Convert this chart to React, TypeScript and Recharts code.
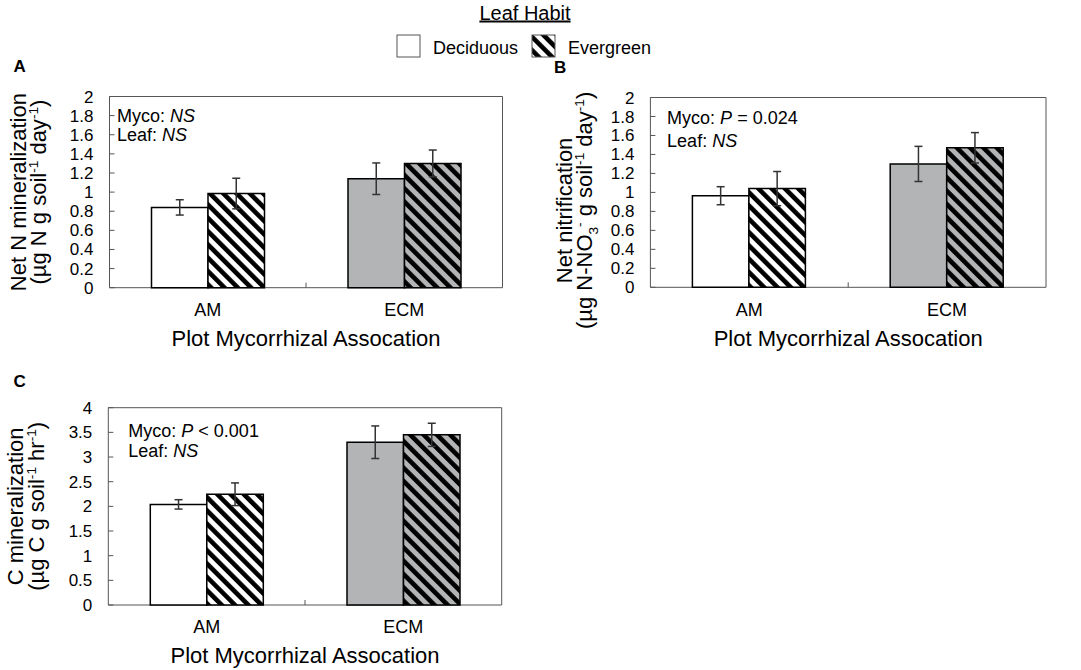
import React from 'react';
import { BarChart, Bar, XAxis, YAxis, ErrorBar, Cell, ReferenceArea } from 'recharts';

// ---------- data ----------
const categories = ['AM', 'ECM'];
const seriesNames = ['Deciduous', 'Evergreen'];

const nMinDeciduous = [0.84, 1.14];
const nMinEvergreen = [0.985, 1.3];
const nMinDeciduousErr = [0.08, 0.165];
const nMinEvergreenErr = [0.16, 0.14];

const nitDeciduous = [0.965, 1.3];
const nitEvergreen = [1.04, 1.47];
const nitDeciduousErr = [0.095, 0.185];
const nitEvergreenErr = [0.18, 0.16];

const cMinDeciduous = [2.04, 3.3];
const cMinEvergreen = [2.245, 3.45];
const cMinDeciduousErr = [0.095, 0.33];
const cMinEvergreenErr = [0.23, 0.235];

const nTicks = [0, 0.2, 0.4, 0.6, 0.8, 1, 1.2, 1.4, 1.6, 1.8, 2];
const cTicks = [0, 0.5, 1, 1.5, 2, 2.5, 3, 3.5, 4];

const xTitle = 'Plot Mycorrhizal Assocation';
const legendTitle = 'Leaf Habit';

type Seg = { t: string; sup?: boolean; sub?: boolean; it?: boolean };

const titleA1 = 'Net N mineralization';
const titleA2: Seg[] = [{ t: '(µg N g soil' }, { t: '-1', sup: true }, { t: ' day' }, { t: '-1', sup: true }, { t: ')' }];
const titleB1 = 'Net nitrification';
const titleB2: Seg[] = [
  { t: '(µg N-NO' }, { t: '3', sub: true }, { t: '-', sup: true }, { t: ' g soil' }, { t: '-1', sup: true },
  { t: ' day' }, { t: '-1', sup: true }, { t: ')' },
];
const titleC1 = 'C mineralization';
const titleC2: Seg[] = [{ t: '(µg C g soil' }, { t: '-1', sup: true }, { t: ' hr' }, { t: '-1', sup: true }, { t: ')' }];

const annA: Seg[][] = [[{ t: 'Myco: ' }, { t: 'NS', it: true }], [{ t: 'Leaf: ' }, { t: 'NS', it: true }]];
const annB: Seg[][] = [[{ t: 'Myco: ' }, { t: 'P', it: true }, { t: ' = 0.024' }], [{ t: 'Leaf: ' }, { t: 'NS', it: true }]];
const annC: Seg[][] = [[{ t: 'Myco: ' }, { t: 'P', it: true }, { t: ' < 0.001' }], [{ t: 'Leaf: ' }, { t: 'NS', it: true }]];

// ---------- style ----------
const FONT = '"Liberation Sans", Arial, Helvetica, sans-serif';
const GRAY = '#b3b4b6';
const AXIS = '#555555';
const ERR = '#333333';
const XH = 60;

function buildRows(dec: number[], ever: number[], decErr: number[], everErr: number[]) {
  return categories.map((c, i) => ({ cat: c, dec: dec[i], ever: ever[i], decErr: decErr[i], everErr: everErr[i] }));
}

function Segs({ segs, size }: { segs: Seg[]; size: number }) {
  let cur = 0;
  return (
    <>
      {segs.map((s, i) => {
        const off = s.sup ? -size * 0.36 : s.sub ? size * 0.28 : 0;
        const dy = off - cur;
        cur = off;
        return (
          <tspan key={i} dy={dy} fontSize={s.sup || s.sub ? size * 0.62 : size} fontStyle={s.it ? 'italic' : 'normal'}>
            {s.t}
          </tspan>
        );
      })}
    </>
  );
}

function HatchDefs({ id }: { id: string }) {
  return (
    <defs>
      <pattern id={`hw-${id}`} patternUnits="userSpaceOnUse" width={9.4} height={9.4} patternTransform="rotate(-45)">
        <rect width={9.4} height={9.4} fill="#ffffff" />
        <rect width={4.6} height={9.4} fill="#000000" />
      </pattern>
      <pattern id={`hg-${id}`} patternUnits="userSpaceOnUse" width={9.4} height={9.4} patternTransform="rotate(-45)">
        <rect width={9.4} height={9.4} fill={GRAY} />
        <rect width={4.6} height={9.4} fill="#000000" />
      </pattern>
    </defs>
  );
}

type PanelCfg = {
  id: string;
  left: number;
  top: number;
  width: number;
  height: number;
  plot: { l: number; r: number; t: number; b: number };
  yMax: number;
  yTicks: number[];
  rows: any[];
  t1: string;
  t2: Seg[];
  t1x: number;
  t2x: number;
  tdy: number;
  ann: Seg[][];
  annX: number;
  annY: number[];
};

const panels: PanelCfg[] = [
  {
    id: 'A', left: 0, top: 0, width: 530, height: 360,
    plot: { l: 109.5, r: 502.5, t: 96.5, b: 287.7 },
    yMax: 2, yTicks: nTicks,
    rows: buildRows(nMinDeciduous, nMinEvergreen, nMinDeciduousErr, nMinEvergreenErr),
    t1: titleA1, t2: titleA2, t1x: 26, t2x: 46, tdy: 0,
    ann: annA, annX: 7.5, annY: [25.5, 44.8],
  },
  {
    id: 'B', left: 540, top: 0, width: 530, height: 360,
    plot: { l: 110.4, r: 506, t: 97.5, b: 287.3 },
    yMax: 2, yTicks: nTicks,
    rows: buildRows(nitDeciduous, nitEvergreen, nitDeciduousErr, nitEvergreenErr),
    t1: titleB1, t2: titleB2, t1x: 31.5, t2x: 52, tdy: 18,
    ann: annB, annX: 16.7, annY: [26.8, 49.2],
  },
  {
    id: 'C', left: 0, top: 360, width: 530, height: 310,
    plot: { l: 108.3, r: 501.7, t: 47.7, b: 245 },
    yMax: 4, yTicks: cTicks,
    rows: buildRows(cMinDeciduous, cMinEvergreen, cMinDeciduousErr, cMinEvergreenErr),
    t1: titleC1, t2: titleC2, t1x: 23, t2x: 43.5, tdy: 0,
    ann: annC, annX: 20, annY: [29.6, 49.6],
  },
];

function Panel({ cfg }: { cfg: PanelCfg }) {
  const { id, left, top, width, height, plot, yMax, yTicks, rows } = cfg;
  const margin = { top: plot.t, right: width - plot.r, bottom: height - plot.b - XH, left: 0 };
  const catW = (plot.r - plot.l) / categories.length;

  const yTick = (p: any) => {
    const axisX = p.x + 16;
    return (
      <g>
        <line x1={axisX} x2={axisX + 5} y1={p.y} y2={p.y} stroke={AXIS} strokeWidth={1} />
        <text x={p.x} y={p.y} dy="0.355em" textAnchor="end" fontSize={17} fontFamily={FONT} fill="#000">
          {String(p.payload.value)}
        </text>
      </g>
    );
  };

  const xTick = (p: any) => (
    <g>
      {p.index < categories.length - 1 ? (
        <line x1={p.x + catW / 2} x2={p.x + catW / 2} y1={p.y} y2={p.y - 5} stroke={AXIS} strokeWidth={1} />
      ) : null}
      <text x={p.x} y={p.y + 28.3} textAnchor="middle" fontSize={18} fontFamily={FONT} fill="#000">
        {p.payload.value}
      </text>
    </g>
  );

  const xLabel = (p: any) => {
    const vb = p.viewBox || {};
    return (
      <text x={vb.x + vb.width / 2} y={vb.y + 58.3} textAnchor="middle" fontSize={22} fontFamily={FONT} fill="#000">
        {xTitle}
      </text>
    );
  };

  const yLabel = (p: any) => {
    const vb = p.viewBox || {};
    const cy = vb.y + vb.height / 2 + cfg.tdy;
    const plotLeft = vb.x + vb.width;
    return (
      <g>
        <text transform={`translate(${vb.x + cfg.t1x},${cy}) rotate(-90)`} textAnchor="middle" fontSize={22} fontFamily={FONT} fill="#000">
          {cfg.t1}
        </text>
        <text transform={`translate(${vb.x + cfg.t2x},${cy}) rotate(-90)`} textAnchor="middle" fontSize={22} fontFamily={FONT} fill="#000">
          <Segs segs={cfg.t2} size={22} />
        </text>
        {cfg.ann.map((line, i) => (
          <text key={i} x={plotLeft + cfg.annX} y={vb.y + cfg.annY[i]} fontSize={18} fontFamily={FONT} fill="#000">
            <Segs segs={line} size={18} />
          </text>
        ))}
      </g>
    );
  };

  return (
    <div style={{ position: 'absolute', left, top, width, height }}>
      <BarChart width={width} height={height} data={rows} margin={margin} barGap={0} barSize={56.5}>
        <HatchDefs id={id} />
        <ReferenceArea y1={0} y2={yMax} fill="none" fillOpacity={0} stroke={AXIS} strokeWidth={1} ifOverflow="visible" />
        <XAxis
          dataKey="cat"
          height={XH}
          axisLine={false}
          tickLine={false}
          tickSize={0}
          tickMargin={0}
          interval={0}
          tick={xTick}
          label={{ content: xLabel }}
        />
        <YAxis
          type="number"
          width={plot.l}
          domain={[0, yMax]}
          ticks={yTicks}
          interval={0}
          axisLine={false}
          tickLine={false}
          tickSize={0}
          tickMargin={16}
          tick={yTick}
          label={{ content: yLabel }}
        />
        <Bar dataKey="dec" name={seriesNames[0]} stroke="#000" strokeWidth={1.5} isAnimationActive={false}>
          {rows.map((_, i) => (
            <Cell key={i} fill={i === 0 ? '#ffffff' : GRAY} />
          ))}
          <ErrorBar dataKey="decErr" width={4} stroke={ERR} strokeWidth={1.5} direction="y" />
        </Bar>
        <Bar dataKey="ever" name={seriesNames[1]} stroke="#000" strokeWidth={1.5} isAnimationActive={false}>
          {rows.map((_, i) => (
            <Cell key={i} fill={i === 0 ? `url(#hw-${id})` : `url(#hg-${id})`} />
          ))}
          <ErrorBar dataKey="everErr" width={4} stroke={ERR} strokeWidth={1.5} direction="y" />
        </Bar>
      </BarChart>
    </div>
  );
}

function Overlay() {
  const legendFills = ['#ffffff', 'url(#legend-hatch)'];
  const boxX = [397, 532];
  return (
    <svg width={1081} height={670} style={{ position: 'absolute', left: 0, top: 0, pointerEvents: 'none' }}>
      <defs>
        <pattern id="legend-hatch" patternUnits="userSpaceOnUse" width={9.4} height={9.4} patternTransform="rotate(-45)">
          <rect width={9.4} height={9.4} fill="#ffffff" />
          <rect width={4.6} height={9.4} fill="#000000" />
        </pattern>
      </defs>
      <text x={525} y={19.5} textAnchor="middle" fontSize={20} fontFamily={FONT} fill="#000" textDecoration="underline">
        {legendTitle}
      </text>
      {seriesNames.map((name, i) => (
        <g key={name}>
          <rect x={boxX[i]} y={35} width={23} height={22} fill={legendFills[i]} stroke={AXIS} strokeWidth={1} />
          <text x={boxX[i] + 36} y={54} fontSize={18} fontFamily={FONT} fill="#000">
            {name}
          </text>
        </g>
      ))}
      <text x={13.5} y={72} fontSize={17} fontWeight="bold" fontFamily={FONT} fill="#000">A</text>
      <text x={554} y={73} fontSize={17} fontWeight="bold" fontFamily={FONT} fill="#000">B</text>
      <text x={13.5} y={387} fontSize={17} fontWeight="bold" fontFamily={FONT} fill="#000">C</text>
    </svg>
  );
}

export default function App() {
  return (
    <div style={{ position: 'absolute', left: 0, top: 0, width: 1081, height: 670, background: '#fff', fontFamily: FONT }}>
      {panels.map((p) => (
        <Panel key={p.id} cfg={p} />
      ))}
      <Overlay />
    </div>
  );
}
